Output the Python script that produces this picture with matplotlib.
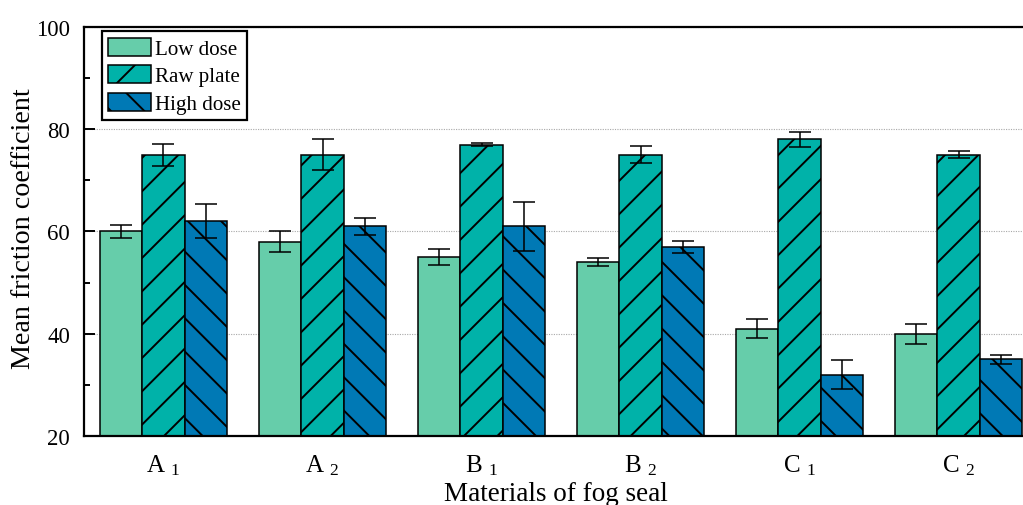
import matplotlib.pyplot as plt
import numpy as np
from matplotlib.ticker import MultipleLocator

plt.rcParams['font.family'] = ['Liberation Serif', 'DejaVu Serif']
plt.rcParams['mathtext.fontset'] = 'custom'
plt.rcParams['mathtext.rm'] = 'Liberation Serif'
plt.rcParams['mathtext.it'] = 'Liberation Serif:italic'
plt.rcParams['mathtext.default'] = 'regular'
plt.rcParams['hatch.linewidth'] = 1.4

materials = ['A $_1$', 'A $_2$', 'B $_1$', 'B $_2$', 'C $_1$', 'C $_2$']
series = ['Low dose', 'Raw plate', 'High dose']
low_dose = [60, 58, 55, 54, 41, 40]
low_err = [1.2, 2.1, 1.5, 0.8, 1.9, 2.0]
raw_plate = [75, 75, 77, 75, 78, 75]
raw_err = [2.1, 3.0, 0.3, 1.7, 1.5, 0.7]
high_dose = [62, 61, 61, 57, 32, 35]
high_err = [3.3, 1.7, 4.8, 1.2, 2.8, 0.9]

colors = ['#66CDAA', '#00B2A9', '#0079B5']
hatches = ['', '/', '\\']


def plot_data():
    """grouped bars with error bars"""
    fig = plt.figure(figsize=(10.23, 5.06), dpi=100)
    ax = fig.add_axes([0.0821, 0.1364, 0.9326, 0.8083])

    x = np.arange(len(materials))
    w = 0.267
    values = [low_dose, raw_plate, high_dose]
    errors = [low_err, raw_err, high_err]
    for i in range(3):
        ax.bar(x + (i - 1) * w, values[i], w, color=colors[i], edgecolor='black',
               linewidth=1.1, hatch=hatches[i], label=series[i], zorder=2,
               yerr=errors[i],
               error_kw=dict(ecolor='black', elinewidth=1.1, capsize=8,
                             capthick=1.1, zorder=3))

    ax.set_xlim(-0.5, 5.5)
    ax.set_ylim(20, 100)
    ax.set_xticks(x)
    ax.set_xticklabels(materials)
    ax.yaxis.set_major_locator(MultipleLocator(20))
    ax.yaxis.set_minor_locator(MultipleLocator(10))
    ax.yaxis.grid(True, linestyle=(0, (1, 1.2)), color='#a8a8a8', linewidth=0.8)
    ax.set_axisbelow(True)

    ax.tick_params(axis='both', which='major', direction='in', length=8,
                   width=1.4)
    ax.tick_params(axis='x', labelsize=18, pad=11.5)
    ax.tick_params(axis='y', labelsize=16.4, pad=10)
    ax.tick_params(axis='y', which='minor', direction='in', length=4, width=1.4)
    for side in ['left', 'bottom', 'top']:
        ax.spines[side].set_linewidth(1.6)
    ax.spines['right'].set_visible(False)

    ax.set_ylabel('Mean friction coefficient', fontsize=20.2)
    ax.yaxis.set_label_coords(-0.050, 0.51)
    ax.set_xlabel('Materials of fog seal', fontsize=19.5)
    ax.xaxis.set_label_coords(0.495, -0.111)

    leg = ax.legend(loc='upper left', bbox_to_anchor=(0.0186, 0.9895),
                    borderaxespad=0, fontsize=15.1, fancybox=False,
                    edgecolor='black', framealpha=1, handlelength=2.05,
                    handleheight=0.95, labelspacing=0.3, handletextpad=0.2,
                    borderpad=0.3)
    leg.get_frame().set_linewidth(1.6)

    fig.savefig('out.png', dpi=100)


def main():
    plot_data()


if __name__ == '__main__':
    main()
